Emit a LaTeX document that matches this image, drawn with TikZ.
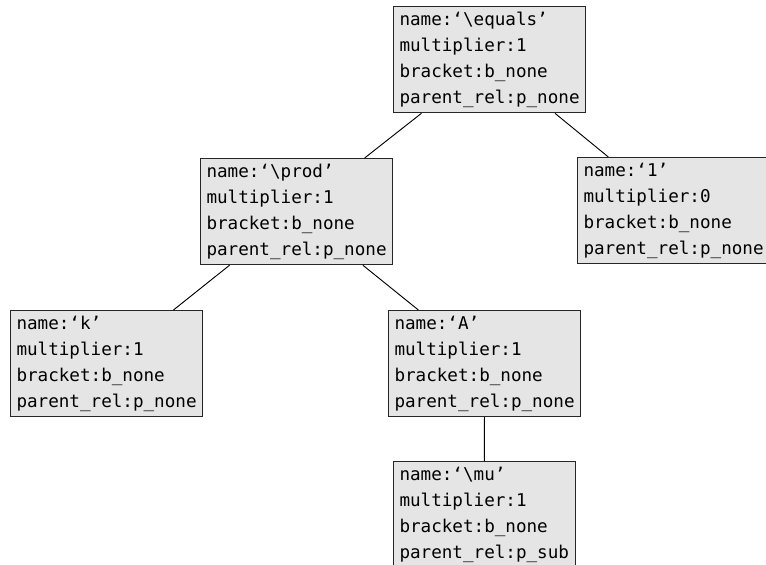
\documentclass[tikz,border=0pt]{standalone}
\usepackage{fontspec}
\setmonofont{DejaVu Sans Mono}

\tikzset{
  term/.style={draw=black!85,fill=black!10,line width=0.75pt,anchor=north west,
    align=left,inner xsep=4.5pt,inner ysep=4pt,
    font=\ttfamily\fontsize{13.2}{19.5}\selectfont},
  link/.style={draw=black,line width=0.7pt}
}
\newcommand{\bs}{\textbackslash}

\begin{document}
\begin{tikzpicture}[x=0.75pt,y=-0.75pt]
    \useasboundingbox (0,0) rectangle (766,564);
    \node[term] (eq) at (393,6) {name:‘\bs equals’\\multiplier:1\\bracket:b\_none\\parent\_rel:p\_none};
    \node[term] (prod) at (200,158) {name:‘\bs prod’\\multiplier:1\\bracket:b\_none\\parent\_rel:p\_none};
    \node[term] (one) at (577,157) {name:‘1’\\multiplier:0\\bracket:b\_none\\parent\_rel:p\_none};
    \node[term] (k) at (10,310) {name:‘k’\\multiplier:1\\bracket:b\_none\\parent\_rel:p\_none};
    \node[term] (A) at (388,310) {name:‘A’\\multiplier:1\\bracket:b\_none\\parent\_rel:p\_none};
    \node[term] (mu) at (393,461) {name:‘\bs mu’\\multiplier:1\\bracket:b\_none\\parent\_rel:p\_sub};
    \draw [link] (eq) -- (prod);
    \draw [link] (eq) -- (one);
    \draw [link] (prod) -- (k);
    \draw [link] (prod) -- (A);
    \draw [link] (A) -- (mu);
\end{tikzpicture}
\end{document}
